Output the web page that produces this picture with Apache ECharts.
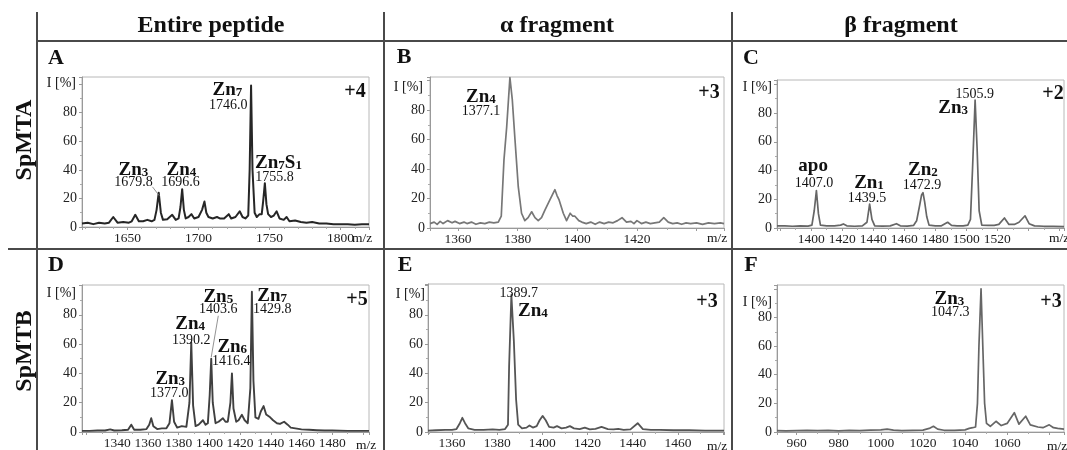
<!DOCTYPE html>
<html>
<head>
<meta charset="utf-8">
<script src="https://cdn.jsdelivr.net/npm/echarts@6/dist/echarts.min.js"></script>
<style>
  html, body { margin: 0; padding: 0; background: #fff; }
  #chart { width: 1067px; height: 450px; }
</style>
</head>
<body>
<div id="chart"></div>
<script>
// spectra: m/z and relative intensity (%)
const mzA = [1618,1622,1626,1630,1634,1637,1640,1643,1647,1651,1653,1655.5,1658,1661,1664,1667,1669,1670.5,1672,1673.5,1675,1678,1681.5,1684,1686,1687.3,1688.5,1689.7,1691,1693,1695,1697,1700,1702.5,1704.2,1705.5,1707,1710,1713,1715,1718,1721.3,1723,1726,1729,1731,1733,1735,1736,1737,1738,1739.5,1741,1743,1744.5,1745.5,1746.7,1747.8,1749,1751,1753,1755,1757,1760,1762,1764,1768,1772,1776,1780,1785,1790,1795,1800,1805,1810,1815,1820];
const intA = [2.5,3,2,3,2.5,3,7,3,3.5,3,4,8.5,4,4,5,4,5,12,24,10,5,5.5,8.5,5,6,14,26.5,12,6,7,9,6,7,12,17.8,10,7,6,7,6,6,9,6,7,11,7,6,8,40,99,40,10,7,9,9,18,30.7,16,9,7,8,11,6,5,7,4,4.5,3.5,3,3.5,2.5,2.5,2,2,2,1.5,2,2];

const mzB = [1350.6,1352,1353,1354,1355,1356.5,1358,1359,1360.5,1362,1363,1364.5,1366,1367.5,1369,1370.5,1372,1373.5,1374.5,1375.4,1376.3,1377.4,1378.2,1379.1,1380.2,1381.3,1382.4,1383.5,1384.7,1385.8,1386.9,1388,1389.1,1390.8,1392,1392.5,1393.2,1393.9,1395.3,1396.4,1397.6,1398.5,1399.2,1400.5,1401.5,1403,1404.5,1406,1407.5,1409,1410.5,1412,1413.5,1415,1416.5,1418,1419,1420,1421.5,1423,1424.5,1426,1427.5,1429,1430.5,1432,1433.5,1435,1436.5,1438,1440,1442,1444,1446,1448,1449.2];
const intB = [3,4,2.5,4.5,3,5,3.5,4.5,3,4,3,4,2.5,3.5,3,4,3.5,4,8,46,68,102,87,60,28,10,5,7,11,7,5,7,12,19,24,26,22,19,10,5,10,8,8,5,4,3,4,2.5,4,3,4,3.5,5,7,4,4.5,3,5,3,4,3,3.5,4,7,4,3,3.5,2.5,3.5,3,3.5,2.5,3.5,3,3.5,3];

const mzC = [1378,1383,1388,1393,1398,1400.5,1402,1403.4,1404.7,1406,1410,1415,1419,1420.8,1423,1428,1433,1436,1437.7,1439.2,1441,1446,1451,1455,1457.5,1462,1466,1468,1470,1471.2,1472.1,1473.2,1474.5,1476,1480,1484,1488,1490.5,1494,1498,1501,1502.7,1504,1505.7,1507,1508.3,1510,1514,1518,1521,1524.6,1527.5,1531,1534,1537.9,1540.5,1544,1550,1556,1563];
const intC = [1.5,1.5,1.2,1.5,1.3,2,12,26,10,2,1.5,1.5,2,2.8,1.5,1.2,1.5,4,16.7,6,1.5,1.3,1.5,3,1.5,1.3,1.8,5,16,23,24.6,18,8,2,1.5,1.5,4,1.8,1.5,1.5,2,6,40,89,55,12,2,1.8,1.8,2.5,7,2.5,2.5,4,8.5,3,1.5,1.2,1.2,1];

const mzD = [1317,1322,1327,1332,1335.4,1338,1343,1347,1349.1,1351,1355,1359,1360.8,1362.1,1363.5,1366,1369,1372,1374,1375.6,1377,1379,1382,1385,1387,1388.2,1389.4,1391,1393,1395.8,1397.5,1399,1400.2,1401.2,1402.2,1404,1406,1408.8,1410.5,1412,1413.7,1414.7,1415.7,1417.5,1419,1421.2,1423,1425,1426.7,1427.7,1428.7,1430,1432,1433.5,1435.3,1437,1439.6,1441.5,1444,1446,1448.7,1451,1453,1456,1460,1465,1470,1475,1480,1490,1504];
const intD = [0.8,0.8,1,1,1.8,1,1.2,1.5,5,1.5,1.5,2,5,9.4,4,2,2.5,2.5,6,21.7,7,3,4,3.5,20,61,18,4,5,8,5,6,25,50,20,6,7,9.4,7,7,20,40,16,7,8,11.7,8,6,30,95.7,35,10,9,14,17.7,12,10,8,6,5.5,7,5,3,2.5,1.8,1.5,1.2,1,1,0.8,0.8];

const mzE = [1349.4,1353,1357,1360,1362,1363.5,1364.6,1365.8,1367.2,1370,1374,1378,1381,1383.5,1384.8,1385.3,1386.3,1387.4,1388.4,1389.3,1391,1393,1394.3,1395.8,1397.5,1398.8,1400.1,1401.5,1403,1405,1406.5,1408.5,1410.5,1412.2,1414,1416.5,1418.8,1421,1423.5,1426.2,1429,1431.5,1433.6,1436,1439,1442.2,1444.5,1448,1452,1458,1465,1472,1480.4];
const intE = [1,1.2,1.5,1.5,2,6,9.7,6,2.5,1.5,1.5,1.8,1.5,2,5,45,93.6,62,22,5,2.5,3,4.5,3,4,8,11,8,3.5,3,4,2.5,3,4,2.5,2,3,1.8,2.2,3.5,2,1.8,2.2,1.5,1.8,6,2,1.5,1.5,1.2,1.2,1,1];

const mzF = [950.7,955,960,965,970,975,980,985,990,995,1000,1003,1006,1010,1015,1020,1023,1025,1027,1030,1035,1040,1042,1043.6,1045,1045.9,1046.6,1047.6,1048.5,1049.3,1050.2,1052,1054.7,1057.2,1060,1063.4,1065.6,1068.8,1071,1074.6,1077,1080,1082,1084,1087];
const intF = [1,0.8,1,1.2,1,1.2,0.8,1.2,1,1.3,1.5,2,1.3,1,1.2,1.3,2.5,4,2,1.2,1.2,1.5,2.5,3,3.5,20,60,100,57,20,6,4,7.5,4.5,6,13.5,5.5,11,5,3.5,3,5,3,2.5,2];

// tick labels shown on each x axis, and on every y axis
const ticksA = [1650, 1700, 1750, 1800];
const ticksB = [1360, 1380, 1400, 1420];
const ticksC = [1400, 1420, 1440, 1460, 1480, 1500, 1520];
const ticksD = [1340, 1360, 1380, 1400, 1420, 1440, 1460, 1480];
const ticksE = [1360, 1380, 1400, 1420, 1440, 1460];
const ticksF = [960, 980, 1000, 1020, 1040, 1060];
const ticksY = [0, 20, 40, 60, 80];

// peak annotations: [kind, text, subscript, m/z, intensity] (label anchor in data units)
const notesA = [
  ['zn', 'Zn', '7', 1720.4, 96], ['num', '1746.0', '', 1721, 85],
  ['zn', 'Zn', '3', 1654.2, 40], ['num', '1679.8', '', 1654.2, 31],
  ['zn', 'Zn', '4', 1688, 40], ['num', '1696.6', '', 1687.3, 31],
  ['zs', 'Zn', '7', 1756.3, 45], ['num', '1755.8', '', 1753.5, 35]
];
const notesB = [['zn', 'Zn', '4', 1367.7, 89], ['num', '1377.1', '', 1367.7, 79.3]];
const notesC = [
  ['num', '1505.9', '', 1505.5, 93.2], ['zn', 'Zn', '3', 1491.6, 83.5],
  ['apo', 'apo', '', 1401.3, 43], ['num', '1407.0', '', 1401.9, 31.3],
  ['zn', 'Zn', '1', 1437.3, 31.3], ['num', '1439.5', '', 1436, 20.9],
  ['zn', 'Zn', '2', 1472, 40.3], ['num', '1472.9', '', 1471.4, 29.9]
];
const notesD = [
  ['zn', 'Zn', '5', 1405.8, 92.1], ['num', '1403.6', '', 1405.8, 83.4],
  ['zn', 'Zn', '7', 1440.9, 92.8], ['num', '1429.8', '', 1440.9, 83.4],
  ['zn', 'Zn', '4', 1387.5, 73.3], ['num', '1390.2', '', 1388.2, 62.5],
  ['zn', 'Zn', '6', 1414.9, 57.8], ['num', '1416.4', '', 1414.2, 48.4],
  ['zn', 'Zn', '3', 1374.5, 36.3], ['num', '1377.0', '', 1373.9, 26.2]
];
const notesE = [['num', '1389.7', '', 1389.6, 94.3], ['zn', 'Zn', '4', 1395.8, 82.2]];
const notesF = [['zn', 'Zn', '3', 1032.6, 93.1], ['num', '1047.3', '', 1033, 83.4]];

// leader lines from a label to its peak
const leadA = [[1667.6, 28.1], [1672.5, 21.8]];
const leadD = [[1405.8, 79.3], [1401.2, 51.1]];

const serif = 'Liberation Serif, Times New Roman, serif';

const panels = [
  { mz: mzA, it: intA, ticks: ticksA, notes: notesA, lead: leadA, step: 50, xmin: 1618, xmax: 1820, ymax: 105, color: '#262626', lw: 2,
    grid: { left: 82, top: 77, width: 287, height: 150 } },
  { mz: mzB, it: intB, ticks: ticksB, notes: notesB, lead: null, step: 20, xmin: 1350.6, xmax: 1449.2, ymax: 102.4, color: '#777', lw: 1.7,
    grid: { left: 430, top: 77, width: 294, height: 151 } },
  { mz: mzC, it: intC, ticks: ticksC, notes: notesC, lead: null, step: 20, xmin: 1378, xmax: 1563, ymax: 103, color: '#666', lw: 1.7,
    grid: { left: 777, top: 80, width: 293, height: 148 } },
  { mz: mzD, it: intD, ticks: ticksD, notes: notesD, lead: leadD, step: 20, xmin: 1317, xmax: 1504, ymax: 100.3, color: '#404040', lw: 1.9,
    grid: { left: 82, top: 285, width: 287, height: 149 } },
  { mz: mzE, it: intE, ticks: ticksE, notes: notesE, lead: null, step: 20, xmin: 1349.4, xmax: 1480.4, ymax: 101, color: '#555', lw: 1.8,
    grid: { left: 428, top: 284, width: 296, height: 150 } },
  { mz: mzF, it: intF, ticks: ticksF, notes: notesF, lead: null, step: 20, xmin: 950.7, xmax: 1087, ymax: 102.7, color: '#666', lw: 1.7,
    grid: { left: 777, top: 285, width: 293, height: 149 } }
];

const rich = {
  z: { fontFamily: serif, fontWeight: 'bold', fontSize: 19, lineHeight: 18, color: '#111' },
  s: { fontFamily: serif, fontWeight: 'bold', fontSize: 13, lineHeight: 6, verticalAlign: 'bottom', color: '#111' },
  n: { fontFamily: serif, fontSize: 14, lineHeight: 14, color: '#111' }
};

function noteText(n) {
  if (n[0] === 'num') return '{n|' + n[1] + '}';
  if (n[0] === 'apo') return '{z|' + n[1] + '}';
  if (n[0] === 'zs') return '{z|Zn}{s|7}{z|S}{s|1}';
  return '{z|' + n[1] + '}{s|' + n[2] + '}';
}

const grids = [], xAxes = [], yAxes = [], series = [];
panels.forEach((p, i) => {
  grids.push(Object.assign({ show: true, borderColor: '#b8b8b8', borderWidth: 1, backgroundColor: 'transparent' }, p.grid));
  xAxes.push({
    type: 'value', gridIndex: i, min: p.xmin, max: p.xmax,
    minInterval: p.step, maxInterval: p.step,
    axisLine: { show: true, onZero: false, lineStyle: { color: '#999', width: 1 } },
    axisTick: { show: true, length: 3, lineStyle: { color: '#999' } },
    minorTick: { show: true, splitNumber: p.step === 50 ? 5 : 2, length: 2, lineStyle: { color: '#aaa' } },
    splitLine: { show: false },
    axisLabel: {
      margin: 4, fontFamily: serif, fontSize: 13.5, color: '#222',
      formatter: v => p.ticks.includes(Math.round(v * 10) / 10) ? String(Math.round(v)) : ''
    }
  });
  yAxes.push({
    type: 'value', gridIndex: i, min: 0, max: p.ymax, interval: 20,
    axisLine: { show: true, lineStyle: { color: '#999', width: 1 } },
    axisTick: { show: true, length: 3, lineStyle: { color: '#999' } },
    minorTick: { show: true, splitNumber: 2, length: 2, lineStyle: { color: '#aaa' } },
    splitLine: { show: false },
    axisLabel: {
      margin: 5, fontFamily: serif, fontSize: 14, color: '#222',
      formatter: v => ticksY.includes(v) ? String(v) : ''
    }
  });
  const s = {
    type: 'line', xAxisIndex: i, yAxisIndex: i,
    data: p.mz.map((m, k) => [m, p.it[k]]),
    showSymbol: false, symbol: 'none', smooth: false,
    lineStyle: { color: p.color, width: p.lw, join: 'round' },
    animation: false, silent: true,
    markPoint: {
      symbol: 'circle', symbolSize: 1, silent: true, animation: false,
      itemStyle: { color: 'transparent' },
      label: { show: true, position: 'inside', rich: rich },
      data: p.notes.map(n => ({ coord: [n[3], n[4]], label: { formatter: noteText(n), rich: rich } }))
    }
  };
  if (p.lead) {
    s.markLine = {
      symbol: ['none', 'none'], silent: true, animation: false,
      label: { show: false },
      lineStyle: { color: '#777', width: 0.8, type: 'solid' },
      data: [[{ coord: p.lead[0] }, { coord: p.lead[1] }]]
    };
  }
  series.push(s);
});

// table frame, headers, panel letters, charge states, axis captions
const txt = (x, y, text, font, opts) => Object.assign({
  type: 'text', x: x, y: y, silent: true,
  style: Object.assign({ text: text, font: font, fill: '#111', align: 'center', verticalAlign: 'middle' }, opts || {})
});
const line = (x1, y1, x2, y2) => ({
  type: 'line', silent: true, shape: { x1, y1, x2, y2 }, style: { stroke: '#4a4a4a', lineWidth: 2 }
});

const bold24 = 'bold 24px ' + serif;
const bold22 = 'bold 22px ' + serif;
const bold20 = 'bold 20px ' + serif;
const reg14 = '14px ' + serif;
const reg13 = '13.5px ' + serif;

const graphic = [
  line(37, 41, 1067, 41),
  line(8, 249, 1067, 249),
  line(37, 12, 37, 450),
  line(384, 12, 384, 450),
  line(732, 12, 732, 450),
  txt(211, 26, 'Entire peptide', bold24),
  txt(557, 26, 'α fragment', bold24),
  txt(901, 26, 'β fragment', bold24),
  Object.assign(txt(25, 140, 'SpMTA', bold24), { rotation: Math.PI / 2 }),
  Object.assign(txt(25, 351, 'SpMTB', bold24), { rotation: Math.PI / 2 }),
  txt(56, 58, 'A', bold22), txt(404, 57, 'B', bold22), txt(751, 58, 'C', bold22),
  txt(56, 265, 'D', bold22), txt(405, 265, 'E', bold22), txt(751, 265, 'F', bold22),
  txt(355, 92, '+4', bold20), txt(709, 93, '+3', bold20), txt(1053, 94, '+2', bold20),
  txt(357, 300, '+5', bold20), txt(707, 302, '+3', bold20), txt(1051, 302, '+3', bold20),
  txt(76, 83, 'I [%]', reg14, { align: 'right' }), txt(423, 87, 'I [%]', reg14, { align: 'right' }),
  txt(772, 87, 'I [%]', reg14, { align: 'right' }), txt(76, 293, 'I [%]', reg14, { align: 'right' }),
  txt(425, 294, 'I [%]', reg14, { align: 'right' }), txt(772, 302, 'I [%]', reg14, { align: 'right' }),
  txt(362, 238, 'm/z', reg13), txt(717, 238, 'm/z', reg13), txt(1059, 238, 'm/z', reg13),
  txt(366, 445, 'm/z', reg13), txt(717, 446, 'm/z', reg13), txt(1057, 446, 'm/z', reg13)
];

const chart = echarts.init(document.getElementById('chart'), null, { renderer: 'canvas' });
chart.setOption({
  animation: false,
  backgroundColor: '#fff',
  grid: grids,
  xAxis: xAxes,
  yAxis: yAxes,
  series: series,
  graphic: graphic
});
window.addEventListener('resize', () => chart.resize());
</script>
</body>
</html>
